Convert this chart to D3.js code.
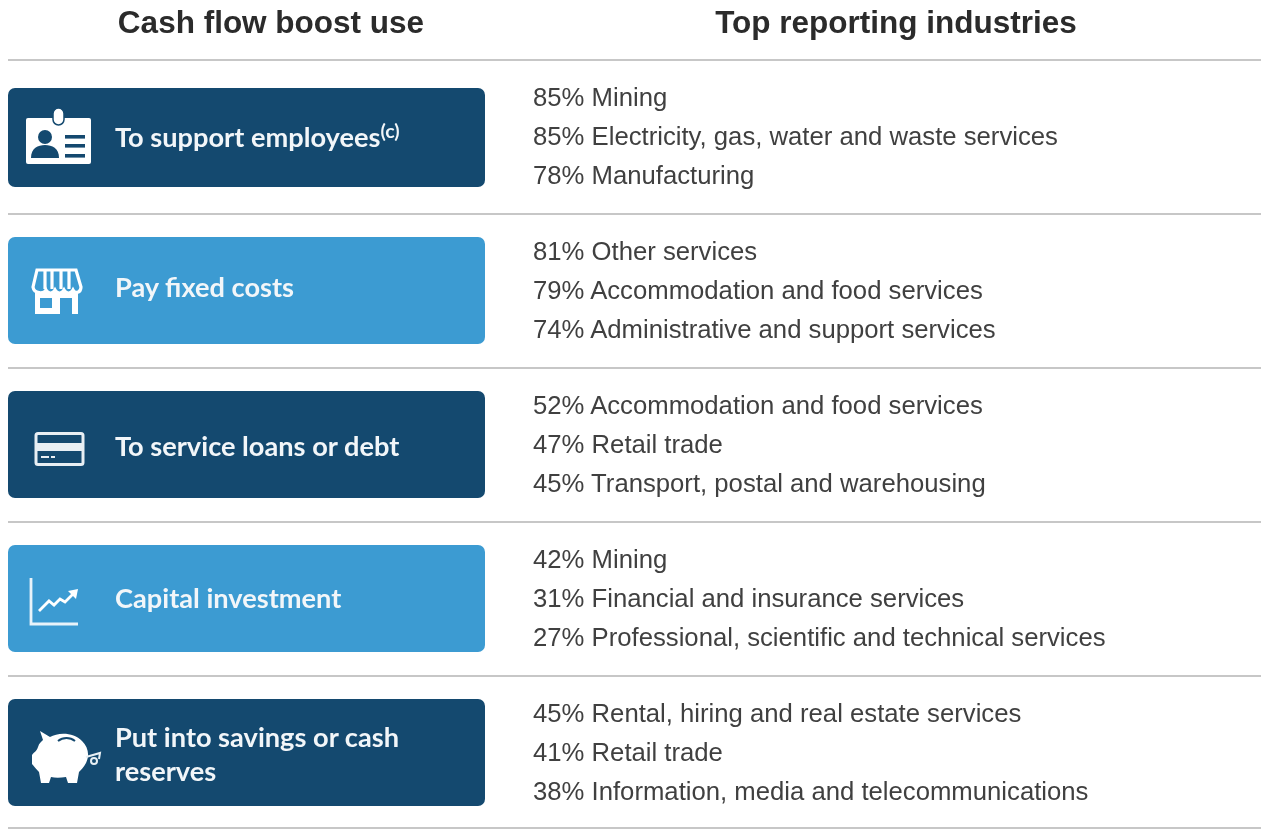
<!DOCTYPE html>
<html>
<head>
<meta charset="utf-8">
<script src="https://cdn.jsdelivr.net/npm/d3@7"></script>
<style>
  html, body { margin: 0; padding: 0; background: #fff; overflow: hidden; }
  svg { display: block; filter: blur(0.35px); }
  .head { font: bold 31.5px "Liberation Sans", Arial, sans-serif; fill: #2b2b2b; text-anchor: middle; }
  .line { font: 25.7px "Liberation Sans", Arial, sans-serif; fill: #404040; }
  .use { font: bold 27.2px Lato, sans-serif; fill: #f2f6f9; }
  .sup { font-size: 19.5px; }
</style>
</head>
<body>
<svg id="chart" width="1261" height="829"></svg>
<script>
// Data
const headers = ["Cash flow boost use", "Top reporting industries"];
const uses = ["To support employees", "Pay fixed costs", "To service loans or debt", "Capital investment", "Put into savings or cash reserves"];
const pct1 = [85, 85, 78];
const ind1 = ["Mining", "Electricity, gas, water and waste services", "Manufacturing"];
const pct2 = [81, 79, 74];
const ind2 = ["Other services", "Accommodation and food services", "Administrative and support services"];
const pct3 = [52, 47, 45];
const ind3 = ["Accommodation and food services", "Retail trade", "Transport, postal and warehousing"];
const pct4 = [42, 31, 27];
const ind4 = ["Mining", "Financial and insurance services", "Professional, scientific and technical services"];
const pct5 = [45, 41, 38];
const ind5 = ["Rental, hiring and real estate services", "Retail trade", "Information, media and telecommunications"];
const allPct = [pct1, pct2, pct3, pct4, pct5];
const allInd = [ind1, ind2, ind3, ind4, ind5];

const dark = "#14496f", light = "#3c9bd2";
const svg = d3.select("#chart");

// Scales
const rowY = d3.scaleBand().domain(d3.range(uses.length)).range([60, 830]);
const lineY = d3.scalePoint().domain([0, 1, 2]).range([-39, 39]);

// Rules, the last one sits on the bottom edge
svg.selectAll(".rule")
  .data(d3.range(uses.length + 1))
  .enter().append("line")
  .attr("x1", 8).attr("x2", 1261)
  .attr("y1", d => Math.min(828, 60 + d * rowY.step()))
  .attr("y2", d => Math.min(828, 60 + d * rowY.step()))
  .attr("stroke", "#b4b4b4").attr("stroke-width", 1.6);

// Headers
svg.selectAll(".head")
  .data(headers)
  .enter().append("text")
  .attr("class", "head")
  .attr("x", (d, i) => [271, 896][i])
  .attr("y", 33)
  .text(d => d);

// Box tops and heights differ a little, first one is shorter
const boxTop = i => i === 0 ? rowY(0) + 28 : rowY(i) + 23;
const boxH = i => i === 0 ? 99 : 107;

const rows = svg.selectAll(".row")
  .data(uses)
  .enter().append("g")
  .attr("class", "row");

rows.append("rect")
  .attr("x", 8)
  .attr("y", (d, i) => boxTop(i))
  .attr("width", 477)
  .attr("height", (d, i) => boxH(i))
  .attr("rx", 7)
  .attr("fill", (d, i) => i % 2 ? light : dark);

// Labels
const labelY = [147, 297, 456, 608];
rows.filter((d, i) => i < 4).append("text")
  .attr("class", "use")
  .attr("x", 115)
  .attr("y", (d, i) => labelY[i])
  .text(d => d);
rows.filter((d, i) => i === 0).select("text")
  .append("tspan").attr("class", "sup").attr("dy", -9).text("(c)");
const wrapped = svg.append("text").attr("class", "use").attr("x", 115).attr("y", 747);
wrapped.append("tspan").text("Put into savings or cash");
wrapped.append("tspan").attr("x", 115).attr("y", 781).text("reserves");

// Industry lines
allInd.forEach((list, r) => {
  svg.append("g").selectAll("text")
    .data(list)
    .enter().append("text")
    .attr("class", "line")
    .attr("x", 533)
    .attr("y", (d, i) => rowY(r) + rowY.step() / 2 + lineY(i) + 8)
    .text((d, i) => allPct[r][i] + "% " + d);
});

// Icons, drawn relative to the box corner
function iconGroup(i) {
  return svg.append("g").attr("transform", `translate(8,${boxTop(i)})`);
}

// Badge
const badge = iconGroup(0);
badge.append("rect").attr("x", 18).attr("y", 30).attr("width", 65).attr("height", 46).attr("rx", 2).attr("fill", "#fff");
badge.append("rect").attr("x", 45).attr("y", 20).attr("width", 11).attr("height", 17).attr("rx", 5.5).attr("fill", "#fff").attr("stroke", dark).attr("stroke-width", 1.5);
badge.append("circle").attr("cx", 37).attr("cy", 49).attr("r", 7).attr("fill", dark);
badge.append("path").attr("d", "M23 70 C23 60 30 57 37 57 C44 57 51 60 51 70 Z").attr("fill", dark);
badge.selectAll(".bar").data([47, 56, 66]).enter().append("rect")
  .attr("x", 57).attr("y", d => d).attr("width", 20).attr("height", 3.6).attr("fill", dark);

// Shop
const shop = iconGroup(1);
shop.append("path")
  .attr("d", "M29 33 H68 L73 50 C73 56 67 57 65 53 C63 57 58 57 56 53 C54 57 49 57 47 53 C45 57 40 57 38 53 C36 57 26 57 25 50 Z")
  .attr("fill", "none").attr("stroke", "#fff").attr("stroke-width", 3.2);
shop.selectAll(".slat").data([37, 44, 53, 61]).enter().append("line")
  .attr("x1", d => d).attr("x2", d => d).attr("y1", 34).attr("y2", 52)
  .attr("stroke", "#fff").attr("stroke-width", 3.2);
shop.append("path")
  .attr("fill-rule", "evenodd")
  .attr("d", "M27 55 H70 V77 H27 Z M32 61 V71 H44 V61 Z M52 61 V77 H64 V61 Z")
  .attr("fill", "#fff");

// Card
const card = iconGroup(2);
card.append("rect").attr("x", 28).attr("y", 42.5).attr("width", 47).attr("height", 31).attr("rx", 2)
  .attr("fill", "none").attr("stroke", "#e8eff4").attr("stroke-width", 3);
card.append("rect").attr("x", 28).attr("y", 52).attr("width", 47).attr("height", 8).attr("fill", "#e8eff4");
card.append("rect").attr("x", 33).attr("y", 65).attr("width", 8).attr("height", 2).attr("fill", "#e8eff4");
card.append("rect").attr("x", 43).attr("y", 65).attr("width", 4).attr("height", 2).attr("fill", "#e8eff4");

// Growth chart
const growth = iconGroup(3);
growth.append("path").attr("d", "M23 33 V79 H70")
  .attr("fill", "none").attr("stroke", "#e8f3fa").attr("stroke-width", 2.8);
growth.append("path").attr("d", "M31 66 L41 56 L46 60 L52 54 L57 57 L66 48")
  .attr("fill", "none").attr("stroke", "#fff").attr("stroke-width", 2.8);
growth.append("path").attr("d", "M60 46 L70 44 L68 54 Z").attr("fill", "#fff");

// Piggy bank
const pig = iconGroup(4);
pig.append("path")
  .attr("d", "M32 32 L42 38 C50 33 66 33 74 42 C80 48 82 56 78 64 C76 68 73 71 71 73 L69 84 H60 L58 78 C52 79 47 79 43 78 L41 84 H33 L31 73 C28 70 26 67 24 65 L24 56 C26 53 29 52 30 48 C31 44 34 42 35 41 Z")
  .attr("fill", "#fff");
pig.append("path").attr("d", "M50 42 C55 38 62 38 67 42").attr("fill", "none").attr("stroke", dark).attr("stroke-width", 2);
pig.append("path").attr("d", "M78 58 L92 54 L91 60").attr("fill", "none").attr("stroke", "#e8eff4").attr("stroke-width", 2);
pig.append("circle").attr("cx", 86).attr("cy", 62).attr("r", 3).attr("fill", "none").attr("stroke", "#e8eff4").attr("stroke-width", 2);
</script>
</body>
</html>
